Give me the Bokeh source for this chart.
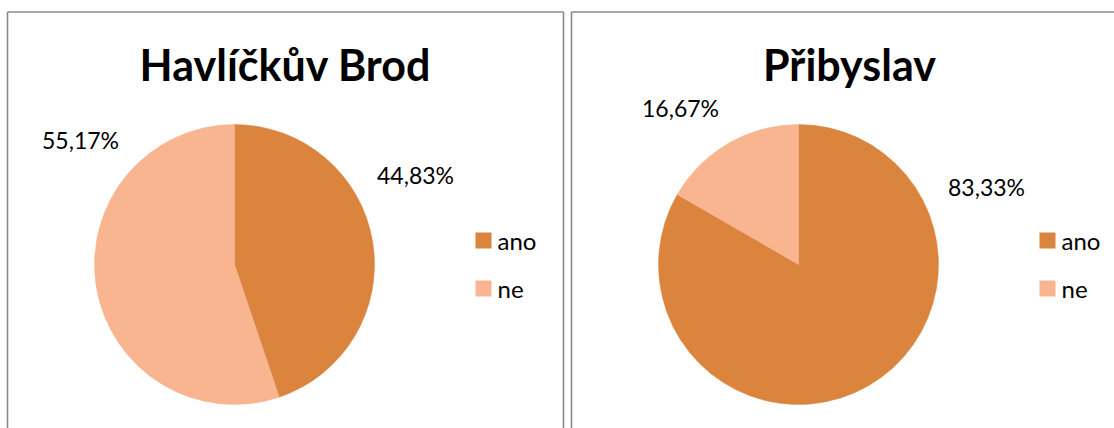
import numpy as np
from bokeh.plotting import figure
from bokeh.models import Range1d, ColumnDataSource
from bokeh.core.properties import value
from bokeh.embed import file_html
from bokeh.resources import INLINE

# ---- data ----
titles = ["Havlíčkův Brod", "Přibyslav"]
categories = ["ano", "ne"]
hb_values = [44.83, 55.17]
pr_values = [83.33, 16.67]
colors = ["#DA843E", "#F9B590"]

# ---- layout (page pixel coordinates) ----
W, H = 1114, 428
panel_left = [7, 571]
panel_width = 556
panel_top = 11.5
pie_dx = 227
pie_cy = 264
pie_r = 140
title_dx = 278
title_base = 64
legend_sq_dx = 468
legend_txt_dx = 490
legend_rows = [240, 288]
# label positions (center x, baseline y) per panel, per category
label_pos = [
    [(415, 174), (80, 139)],
    [(986, 186), (680, 107)],
]

FONT = "Lato"


def X(px):
    return px


def Y(py):
    return H - py


p = figure(width=W, height=H, x_range=Range1d(0, W), y_range=Range1d(0, H),
           output_backend="svg", toolbar_location=None, min_border=0,
           x_axis_location=None, y_axis_location=None)
p.grid.visible = False
p.outline_line_color = None
p.background_fill_color = "white"
p.border_fill_color = "white"

border_color = "#8a8a8a"
# panel borders
for i, pl in enumerate(panel_left):
    xl = X(pl)
    xr = X(pl + panel_width)
    yt = Y(panel_top)
    p.line([xl, xl], [-5, yt], line_color=border_color, line_width=1.6)
    p.line([xl, xr], [yt, yt], line_color=border_color, line_width=1.6)
    p.line([xr, xr], [-5, yt], line_color=border_color, line_width=1.6)

series = [hb_values, pr_values]
for i, vals in enumerate(series):
    vals = np.array(vals, dtype=float)
    frac = vals / vals.sum()
    cum = np.concatenate([[0], np.cumsum(frac)])
    start = np.pi / 2 - 2 * np.pi * cum[:-1]
    end = np.pi / 2 - 2 * np.pi * cum[1:]
    cx = X(panel_left[i] + pie_dx)
    src = ColumnDataSource(dict(
        x=[cx] * len(vals), y=[Y(pie_cy)] * len(vals),
        start=start, end=end, color=colors, cat=categories))
    p.wedge(x="x", y="y", radius=pie_r, start_angle="start", end_angle="end",
            direction="clock", fill_color="color", line_color="color",
            line_width=0.5, source=src)

    # title
    p.text(x=[X(panel_left[i] + title_dx)], y=[Y(title_base)], text=[titles[i]],
           text_font=value(FONT), text_font_style="bold", text_font_size="43px",
           text_align="center", text_baseline="alphabetic", text_color="black")

    # data labels
    lx = [X(pp[0]) for pp in label_pos[i]]
    ly = [Y(pp[1]) for pp in label_pos[i]]
    labels = [("%.2f%%" % v).replace(".", ",") for v in vals]
    p.text(x=lx, y=ly, text=labels, text_font=value(FONT), text_font_size="23px",
           text_align="center", text_baseline="alphabetic", text_color="black")

    # legend
    sq_x = X(panel_left[i] + legend_sq_dx) + 8
    p.rect(x=[sq_x] * 2, y=[Y(r) for r in legend_rows], width=16, height=16,
           fill_color=colors, line_color=None)
    p.text(x=[X(panel_left[i] + legend_txt_dx)] * 2, y=[Y(r) for r in legend_rows],
           text=categories, text_font=value(FONT), text_font_size="24px",
           text_align="left", text_baseline="middle", text_color="black")

open("out.html", "w").write(file_html(p, INLINE))
